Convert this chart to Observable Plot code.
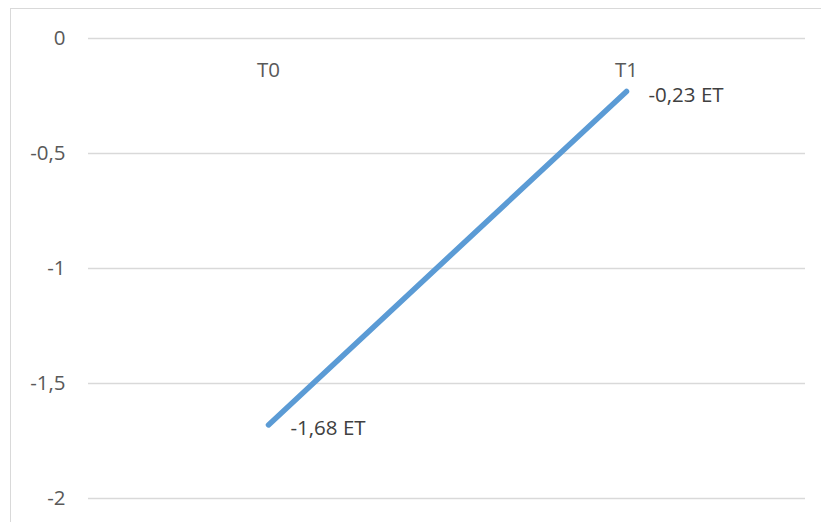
<!DOCTYPE html>
<html>
<head>
<meta charset="utf-8">
<script src="https://cdn.jsdelivr.net/npm/d3@7"></script>
<script src="https://cdn.jsdelivr.net/npm/@observablehq/plot@0.6"></script>
<style>
  html, body { margin: 0; padding: 0; background: #fff; overflow: hidden; }
  #wrap { position: relative; width: 821px; height: 522px; }
  #border { position: absolute; left: 10px; top: 8px; width: 830px; height: 540px; border: 1.5px solid #d9d9d9; box-sizing: border-box; }
  #chart { position: absolute; left: 0; top: 0; }
</style>
</head>
<body>
<div id="wrap"><div id="border"></div><div id="chart"></div></div>
<script>
const categories = ["T0", "T1"];
const values = [-1.68, -0.23];
const labels = ["-1,68 ET", "-0,23 ET"];
const yTicks = [0, -0.5, -1, -1.5, -2];

const data = categories.map((c, i) => ({cat: c, v: values[i], label: labels[i]}));
const fmt = d => String(d).replace(".", ",");
const font = "'Open Sans', Lato, sans-serif";

const chart = Plot.plot({
  width: 821,
  height: 522,
  marginLeft: 88,
  marginRight: 16,
  marginTop: 38,
  marginBottom: 24,
  style: {fontFamily: font, fontSize: "20.5px", color: "#595959", background: "transparent"},
  x: {type: "band", domain: categories, padding: 0, axis: null},
  y: {domain: [-2, 0], ticks: yTicks, tickFormat: fmt, label: null},
  marks: [
    Plot.gridY(yTicks, {stroke: "#d9d9d9", strokeOpacity: 1, strokeWidth: 1.3}),
    Plot.axisY(yTicks, {tickSize: 0, tickPadding: 23, tickFormat: fmt, fill: "#595959", fontSize: 20.5, label: null}),
    Plot.text(categories, {x: d => d, y: () => 0, dy: 32, fill: "#595959", fontSize: 20.5}),
    Plot.line(data, {x: "cat", y: "v", stroke: "#5b9bd5", strokeWidth: 5.5, strokeLinecap: "round"}),
    Plot.text(data, {x: "cat", y: "v", text: "label", dx: 22, dy: 4, textAnchor: "start", fill: "#404040", fontSize: 20.5})
  ]
});
document.getElementById("chart").appendChild(chart);
</script>
</body>
</html>
